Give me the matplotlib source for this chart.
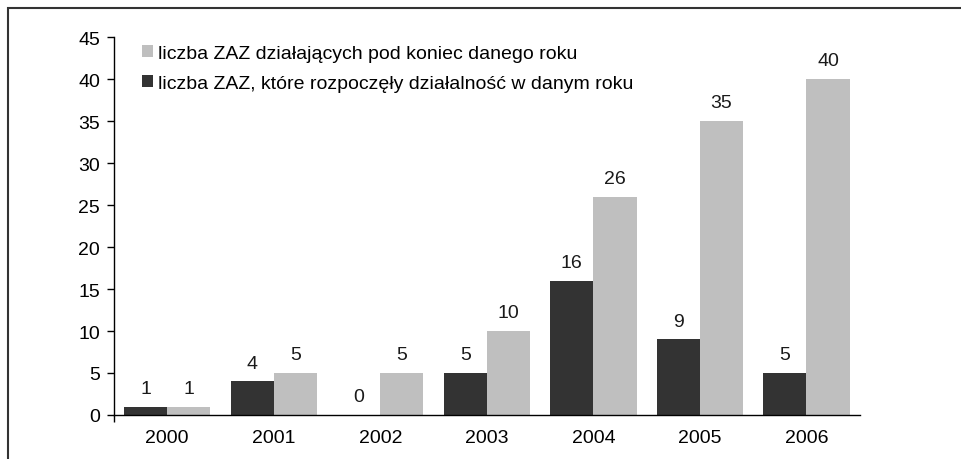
import matplotlib.pyplot as plt
import numpy as np
from matplotlib.patches import Rectangle

plt.rcParams['font.family'] = ['Liberation Sans', 'DejaVu Sans']

# Data
years = ['2000', '2001', '2002', '2003', '2004', '2005', '2006']
started = [1, 4, 0, 5, 16, 9, 5]        # ZAZ started in given year
operating = [1, 5, 5, 10, 26, 35, 40]   # ZAZ operating at end of year

label_op = 'liczba ZAZ działających pod koniec danego roku'
label_st = 'liczba ZAZ, które rozpoczęły działalność w danym roku'

dark = '#333333'
light = '#bfbfbf'
fs = 14

fig = plt.figure(figsize=(9.61, 4.6), dpi=100)
ax = fig.add_axes([0.1186, 0.0957, 0.776, 0.8215])

x = np.arange(len(years))
w = 0.405
b_st = ax.bar(x - w / 2, started, w, color=dark, label=label_st)
b_op = ax.bar(x + w / 2, operating, w, color=light, label=label_op)

# value labels
for bars in (b_st, b_op):
    for rect in bars:
        h = rect.get_height()
        ax.annotate(f'{h:g}', (rect.get_x() + rect.get_width() / 2, h),
                    xytext=(0, 7), textcoords='offset points',
                    ha='center', va='bottom', fontsize=fs, color='#1a1a1a')

ax.set_xlim(-0.5, len(years) - 0.5)
ax.set_ylim(0, 45)
ax.set_yticks(range(0, 46, 5))

# category labels as minor ticks, single major tick at the origin
ax.set_xticks([-0.5])
ax.set_xticklabels([''])
ax.set_xticks(x, minor=True)
ax.set_xticklabels(years, minor=True)
ax.tick_params(axis='x', which='minor', length=0, pad=10, labelsize=fs)
ax.tick_params(axis='x', which='major', length=5, width=1)
ax.tick_params(axis='y', length=5, width=1, pad=5, labelsize=fs)

for s in ('top', 'right'):
    ax.spines[s].set_visible(False)
ax.spines['left'].set_linewidth(1)
ax.spines['bottom'].set_linewidth(1)

handles = [b_op, b_st]
ax.legend(handles, [label_op, label_st], loc='upper left',
          bbox_to_anchor=(0.019, 1.015), frameon=False, fontsize=fs,
          borderpad=0.2, handlelength=0.6, handleheight=0.6,
          handletextpad=0.25, labelspacing=0.65)

# outer frame
fig.patches.append(Rectangle((8 / 961, -0.1), 1.1, 1 - 9 / 460 + 0.1,
                             transform=fig.transFigure, fill=False,
                             edgecolor='#333333', linewidth=1.5))

fig.savefig('out.png', dpi=100)
